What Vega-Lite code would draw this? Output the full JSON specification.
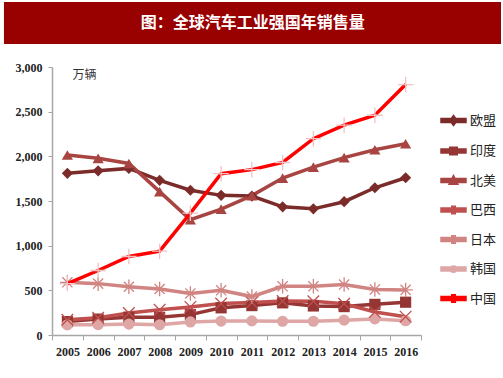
{
  "$schema": "https://vega.github.io/schema/vega-lite/v6.json",
  "padding": {"left": 3, "top": 2, "right": 3, "bottom": 0},
  "spacing": 17,
  "background": "white",
  "config": {"view": {"stroke": null}},
  "vconcat": [
    {
      "width": 449,
      "height": 42,
      "data": {"values": [{"t": "图：全球汽车工业强国年销售量"}]},
      "layer": [
        {"mark": {"type": "rect", "color": "#990000"},
         "encoding": {"x": {"datum": -0.107, "type": "quantitative", "scale": {"domain": [0, 1]}, "axis": null}, "x2": {"datum": 1}}},
        {"mark": {"type": "text", "color": "white", "fontSize": 16, "fontWeight": "bold", "font": "Noto Sans CJK SC"},
         "encoding": {"x": {"datum": 0.447, "type": "quantitative"}, "text": {"field": "t"}}}
      ]
    },
    {
      "width": 369,
      "height": 268,
      "data": {"values": [
        {"year": "2005", "series": "欧盟", "value": 1810}, {"year": "2006", "series": "欧盟", "value": 1838}, {"year": "2007", "series": "欧盟", "value": 1865}, {"year": "2008", "series": "欧盟", "value": 1731}, {"year": "2009", "series": "欧盟", "value": 1620}, {"year": "2010", "series": "欧盟", "value": 1563}, {"year": "2011", "series": "欧盟", "value": 1555}, {"year": "2012", "series": "欧盟", "value": 1435}, {"year": "2013", "series": "欧盟", "value": 1412}, {"year": "2014", "series": "欧盟", "value": 1492}, {"year": "2015", "series": "欧盟", "value": 1648}, {"year": "2016", "series": "欧盟", "value": 1760},
        {"year": "2005", "series": "印度", "value": 150}, {"year": "2006", "series": "印度", "value": 178}, {"year": "2007", "series": "印度", "value": 200}, {"year": "2008", "series": "印度", "value": 198}, {"year": "2009", "series": "印度", "value": 228}, {"year": "2010", "series": "印度", "value": 304}, {"year": "2011", "series": "印度", "value": 329}, {"year": "2012", "series": "印度", "value": 360}, {"year": "2013", "series": "印度", "value": 325}, {"year": "2014", "series": "印度", "value": 318}, {"year": "2015", "series": "印度", "value": 343}, {"year": "2016", "series": "印度", "value": 367},
        {"year": "2005", "series": "北美", "value": 2015}, {"year": "2006", "series": "北美", "value": 1978}, {"year": "2007", "series": "北美", "value": 1920}, {"year": "2008", "series": "北美", "value": 1605}, {"year": "2009", "series": "北美", "value": 1290}, {"year": "2010", "series": "北美", "value": 1410}, {"year": "2011", "series": "北美", "value": 1560}, {"year": "2012", "series": "北美", "value": 1757}, {"year": "2013", "series": "北美", "value": 1880}, {"year": "2014", "series": "北美", "value": 1985}, {"year": "2015", "series": "北美", "value": 2074}, {"year": "2016", "series": "北美", "value": 2141},
        {"year": "2005", "series": "巴西", "value": 171}, {"year": "2006", "series": "巴西", "value": 193}, {"year": "2007", "series": "巴西", "value": 246}, {"year": "2008", "series": "巴西", "value": 282}, {"year": "2009", "series": "巴西", "value": 314}, {"year": "2010", "series": "巴西", "value": 352}, {"year": "2011", "series": "巴西", "value": 363}, {"year": "2012", "series": "巴西", "value": 380}, {"year": "2013", "series": "巴西", "value": 377}, {"year": "2014", "series": "巴西", "value": 350}, {"year": "2015", "series": "巴西", "value": 257}, {"year": "2016", "series": "巴西", "value": 205},
        {"year": "2005", "series": "日本", "value": 590}, {"year": "2006", "series": "日本", "value": 575}, {"year": "2007", "series": "日本", "value": 540}, {"year": "2008", "series": "日本", "value": 515}, {"year": "2009", "series": "日本", "value": 465}, {"year": "2010", "series": "日本", "value": 500}, {"year": "2011", "series": "日本", "value": 430}, {"year": "2012", "series": "日本", "value": 545}, {"year": "2013", "series": "日本", "value": 545}, {"year": "2014", "series": "日本", "value": 565}, {"year": "2015", "series": "日本", "value": 510}, {"year": "2016", "series": "日本", "value": 505},
        {"year": "2005", "series": "韩国", "value": 114}, {"year": "2006", "series": "韩国", "value": 116}, {"year": "2007", "series": "韩国", "value": 122}, {"year": "2008", "series": "韩国", "value": 115}, {"year": "2009", "series": "韩国", "value": 146}, {"year": "2010", "series": "韩国", "value": 156}, {"year": "2011", "series": "韩国", "value": 158}, {"year": "2012", "series": "韩国", "value": 154}, {"year": "2013", "series": "韩国", "value": 154}, {"year": "2014", "series": "韩国", "value": 166}, {"year": "2015", "series": "韩国", "value": 180}, {"year": "2016", "series": "韩国", "value": 160},
        {"year": "2005", "series": "中国", "value": 576}, {"year": "2006", "series": "中国", "value": 722}, {"year": "2007", "series": "中国", "value": 879}, {"year": "2008", "series": "中国", "value": 938}, {"year": "2009", "series": "中国", "value": 1364}, {"year": "2010", "series": "中国", "value": 1806}, {"year": "2011", "series": "中国", "value": 1851}, {"year": "2012", "series": "中国", "value": 1931}, {"year": "2013", "series": "中国", "value": 2198}, {"year": "2014", "series": "中国", "value": 2349}, {"year": "2015", "series": "中国", "value": 2460}, {"year": "2016", "series": "中国", "value": 2803}
      ]},
      "encoding": {
        "x": {"field": "year", "type": "nominal", "sort": null,
          "axis": {"title": null, "labelAngle": 0, "tickBand": "extent", "labelFont": "Liberation Sans Narrow", "labelFontWeight": "bold", "labelFontSize": 12, "labelColor": "#222", "domainColor": "#A6A6A6", "domainWidth": 1.5, "tickColor": "#A6A6A6", "tickSize": 5, "labelPadding": 6}},
        "y": {"field": "value", "type": "quantitative", "scale": {"domain": [0, 3000]},
          "axis": {"title": null, "values": [0, 500, 1000, 1500, 2000, 2500, 3000], "format": ",.0f", "grid": false, "minExtent": 48, "labelFont": "Liberation Sans Narrow", "labelFontWeight": "bold", "labelFontSize": 12, "labelColor": "#222", "domainColor": "#A6A6A6", "domainWidth": 1.5, "tickColor": "#A6A6A6", "tickSize": 4, "labelPadding": 6}}
      },
      "layer": [
        {
          "transform": [{"filter": "datum.series !== '中国'"}],
          "mark": {"type": "line", "strokeWidth": 3.5},
          "encoding": {
            "color": {"field": "series", "type": "nominal",
              "scale": {"domain": ["欧盟", "印度", "北美", "巴西", "日本", "韩国", "中国"], "range": ["#7B2C2A", "#953634", "#A84441", "#C0504D", "#D18583", "#DEA6A5", "#FF0000"]},
              "legend": {"title": null, "orient": "none", "legendX": 388, "legendY": 105, "rowPadding": 8.5, "symbolSize": 625, "labelFont": "Noto Sans CJK SC", "labelFontSize": 13, "labelColor": "#222", "labelOffset": 3,
                "encode": {"symbols": {"update": {
                  "shape": {"signal": "datum.value === '欧盟' ? 'M-1,-0.16H1V0.16H-1Z M0,-0.4L0.3,0L0,0.4L-0.3,0Z' : datum.value === '印度' ? 'M-1,-0.16H1V0.16H-1Z M-0.3,-0.3H0.3V0.3H-0.3Z' : datum.value === '北美' ? 'M-1,-0.16H1V0.16H-1Z M0,-0.4L0.35,0.3H-0.35Z' : datum.value === '韩国' ? 'M-1,-0.16H1V0.16H-1Z M-0.25,0A0.25,0.25 0 1 1 0.25,0A0.25,0.25 0 1 1 -0.25,0Z' : 'M-1,-0.16H1V0.16H-1Z M-0.14,-0.3H-0.06V0.3H-0.14Z M0.06,-0.3H0.14V0.3H0.06Z'"},
                  "fill": {"signal": "scale('color', datum.value)"},
                  "stroke": {"value": "transparent"},
                  "size": {"value": 625}
                }}}}
            }
          }
        },
        {
          "transform": [{"filter": "datum.series === '欧盟' || datum.series === '印度' || datum.series === '北美' || datum.series === '韩国'"}],
          "mark": {"type": "point", "filled": true, "opacity": 1, "size": 125},
          "encoding": {
            "color": {"field": "series", "type": "nominal"},
            "shape": {"field": "series", "type": "nominal", "legend": null,
              "scale": {"domain": ["欧盟", "印度", "北美", "韩国", "巴西", "日本"], "range": ["diamond", "square", "triangle-up", "circle", "M-0.8,-0.8L0.8,0.8M-0.8,0.8L0.8,-0.8", "M-1,0H1M0,-1V1M-0.7,-0.7L0.7,0.7M-0.7,0.7L0.7,-0.7"]}}
          }
        },
        {
          "transform": [{"filter": "datum.series === '巴西' || datum.series === '日本'"}],
          "mark": {"type": "point", "filled": false, "opacity": 1, "strokeWidth": 1.3, "size": 210},
          "encoding": {
            "color": {"field": "series", "type": "nominal"},
            "shape": {"field": "series", "type": "nominal", "legend": null,
              "scale": {"domain": ["欧盟", "印度", "北美", "韩国", "巴西", "日本"], "range": ["diamond", "square", "triangle-up", "circle", "M-0.8,-0.8L0.8,0.8M-0.8,0.8L0.8,-0.8", "M-1,0H1M0,-1V1M-0.7,-0.7L0.7,0.7M-0.7,0.7L0.7,-0.7"]}}
          }
        },
        {
          "transform": [{"filter": "datum.series === '中国'"}],
          "mark": {"type": "line", "strokeWidth": 3.5},
          "encoding": {"color": {"field": "series", "type": "nominal"}}
        },
        {
          "transform": [{"filter": "datum.series === '中国'"}],
          "mark": {"type": "point", "filled": false, "opacity": 1, "strokeWidth": 1.3, "size": 240, "shape": "M-1,0H1M0,-1V1", "color": "#F2C2C2"}
        },
        {
          "data": {"values": [{"label": "万辆", "year": "2005", "value": 2915}]},
          "mark": {"type": "text", "font": "Noto Sans CJK SC", "fontSize": 12, "color": "#333", "dx": 17},
          "encoding": {"text": {"field": "label"}}
        }
      ]
    }
  ]
}
